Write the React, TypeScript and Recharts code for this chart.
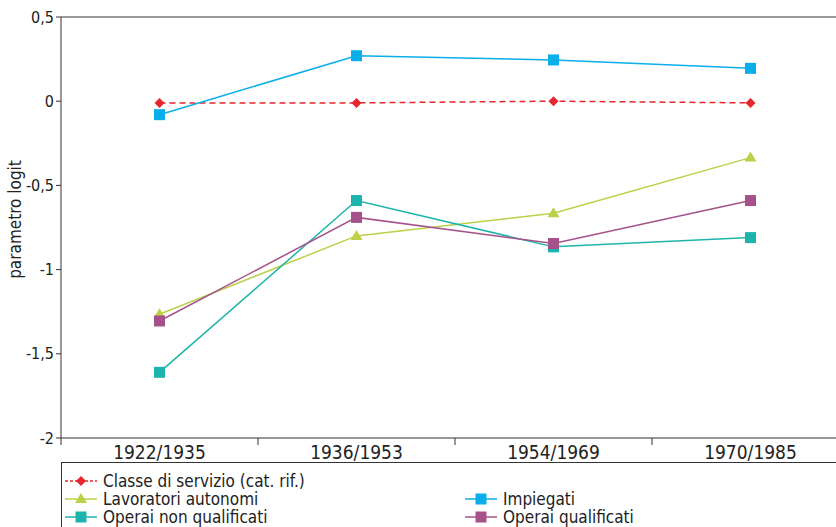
import React from 'react';
import { LineChart, Line, XAxis, YAxis, ReferenceLine } from 'recharts';

const periods = ['1922/1935', '1936/1953', '1954/1969', '1970/1985'];
const classeServizio = [-0.01, -0.01, 0.0, -0.01];
const impiegati = [-0.08, 0.27, 0.245, 0.195];
const lavoratoriAutonomi = [-1.265, -0.8, -0.665, -0.335];
const operaiNonQualificati = [-1.61, -0.59, -0.865, -0.81];
const operaiQualificati = [-1.305, -0.69, -0.845, -0.59];
const yTicks = [-2, -1.5, -1, -0.5, 0, 0.5];
const bandTicks = [0, 1, 2, 3, 4];

const data = periods.map((p, i) => ({
  period: p,
  idx: i + 0.5,
  classe: classeServizio[i],
  impiegati: impiegati[i],
  autonomi: lavoratoriAutonomi[i],
  nonQual: operaiNonQualificati[i],
  qual: operaiQualificati[i],
}));

const FONT = '"DejaVu Sans Condensed", "DejaVu Sans", sans-serif';
const PLOT_W = 788;
const BAND = PLOT_W / periods.length;

const Diamond = (color: string) => (props: any) => {
  const { cx, cy } = props;
  return <path key={cx} d={`M${cx},${cy - 5}L${cx + 5},${cy}L${cx},${cy + 5}L${cx - 5},${cy}Z`} fill={color} />;
};
const Square = (color: string) => (props: any) => {
  const { cx, cy } = props;
  return <rect key={cx} x={cx - 5.5} y={cy - 5.5} width={11} height={11} fill={color} />;
};
const Triangle = (color: string) => (props: any) => {
  const { cx, cy } = props;
  return <path key={cx} d={`M${cx},${cy - 6}L${cx + 6},${cy + 4}L${cx - 6},${cy + 4}Z`} fill={color} />;
};

const series = [
  { key: 'classe', name: 'Classe di servizio (cat. rif.)', color: '#e8262d', shape: 'diamond', dash: '6 4' },
  { key: 'autonomi', name: 'Lavoratori autonomi', color: '#bdd047', shape: 'triangle' },
  { key: 'impiegati', name: 'Impiegati', color: '#0aaeea', shape: 'square' },
  { key: 'nonQual', name: 'Operai non qualificati', color: '#1db5ab', shape: 'square' },
  { key: 'qual', name: 'Operai qualificati', color: '#a5528a', shape: 'square' },
];

const dotFor = (s: any) =>
  s.shape === 'diamond' ? Diamond(s.color) : s.shape === 'triangle' ? Triangle(s.color) : Square(s.color);

// label sits in the middle of each band, tick lines mark band edges
const PeriodTick = (props: any) => {
  const { x, y, payload } = props;
  const label = periods[payload.value];
  if (!label) return null;
  return (
    <text x={x + BAND / 2} y={y} dy="0.71em" textAnchor="middle" fill="#222" fontSize={19} fontFamily={FONT}>
      {label}
    </text>
  );
};

const LegendItem = ({ s }: { s: any }) => (
  <div style={{ display: 'flex', alignItems: 'center', height: 18 }}>
    <svg width={36} height={14} style={{ marginRight: 4 }}>
      <line x1={2} y1={7} x2={34} y2={7} stroke={s.color} strokeWidth={1.5} strokeDasharray={s.dash ? '3 2' : undefined} />
      {s.shape === 'diamond' && <path d="M18,2L23,7L18,12L13,7Z" fill={s.color} />}
      {s.shape === 'triangle' && <path d="M18,1L24,11L12,11Z" fill={s.color} />}
      {s.shape === 'square' && <rect x={12.5} y={1.5} width={11} height={11} fill={s.color} />}
    </svg>
    <span>{s.name}</span>
  </div>
);

export default function App() {
  return (
    <div style={{ position: 'absolute', left: 0, top: 0, width: 836, height: 527, overflow: 'hidden', background: '#fff', fontFamily: FONT }}>
      <LineChart width={860} height={470} data={data} margin={{ top: 17, right: 11, bottom: 0, left: 0 }}>
        <XAxis
          dataKey="idx"
          type="number"
          domain={[0, 4]}
          ticks={bandTicks}
          tick={<PeriodTick />}
          tickSize={7}
          tickMargin={1}
          stroke="#333"
          height={32}
          interval={0}
          allowDataOverflow
        />
        <YAxis
          domain={[-2, 0.5]}
          ticks={yTicks}
          width={61}
          stroke="#333"
          tickSize={5}
          tickMargin={2}
          tick={{ fill: '#222', fontSize: 16, fontFamily: FONT }}
          tickFormatter={(v: number) => String(v).replace('.', ',')}
          label={{ value: 'parametro logit', angle: -90, position: 'insideLeft', offset: 15, dy: -8, style: { fill: '#222', fontSize: 17, fontFamily: FONT, textAnchor: 'middle' } }}
        />
        <ReferenceLine y={0.5} stroke="#333" strokeWidth={1} />
        {series.map((s) => (
          <Line
            key={s.key}
            dataKey={s.key}
            name={s.name}
            stroke={s.color}
            strokeWidth={1.5}
            strokeDasharray={s.dash}
            dot={dotFor(s)}
            activeDot={false}
            isAnimationActive={false}
          />
        ))}
      </LineChart>
      <div
        style={{
          position: 'absolute',
          left: 61,
          top: 462,
          width: 800,
          height: 90,
          border: '1px solid #333',
          fontSize: 17,
          color: '#222',
          paddingTop: 9,
          paddingLeft: 1,
          lineHeight: '18px',
        }}
      >
        <LegendItem s={series[0]} />
        <div style={{ display: 'flex' }}>
          <div style={{ width: 400 }}>
            <LegendItem s={series[1]} />
            <LegendItem s={series[3]} />
          </div>
          <div>
            <LegendItem s={series[2]} />
            <LegendItem s={series[4]} />
          </div>
        </div>
      </div>
    </div>
  );
}
